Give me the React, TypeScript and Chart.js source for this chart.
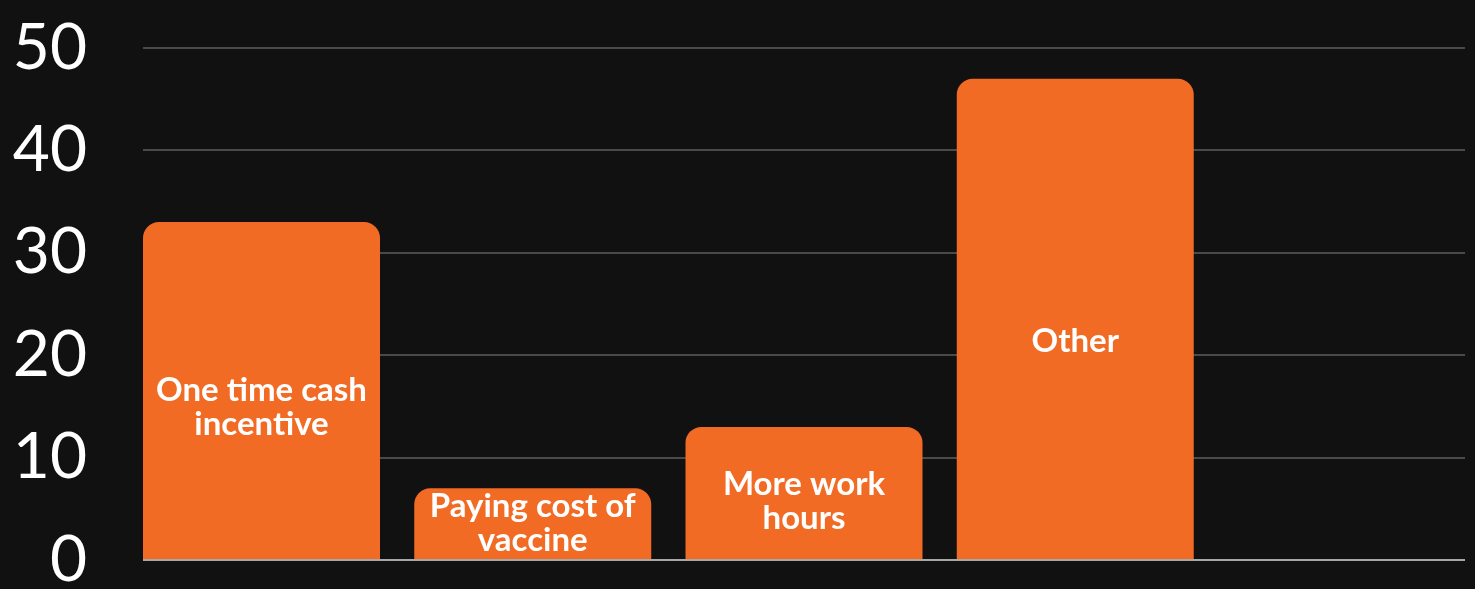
import React, { useEffect, useRef } from "react";
import { Chart, registerables } from "chart.js";

Chart.register(...registerables);

const categories: string[][] = [
  ["One time cash", "incentive"],
  ["Paying cost of", "vaccine"],
  ["More work", "hours"],
  ["Other"],
];
const values: number[] = [33, 7, 13, 47];
const slotCount = 5;
const yTicks: number[] = [0, 10, 20, 30, 40, 50];

const BG = "#111111";
const BAR = "#F26B24";
const FONT = "Lato, 'Open Sans', sans-serif";

const barLabelPlugin = {
  id: "barLabels",
  afterDatasetsDraw(chart: any) {
    const ctx = chart.ctx;
    const meta = chart.getDatasetMeta(0);
    const lineH = 34;
    ctx.save();
    ctx.fillStyle = "#ffffff";
    ctx.font = `bold 33px ${FONT}`;
    ctx.textAlign = "center";
    ctx.textBaseline = "middle";
    meta.data.forEach((el: any, i: number) => {
      const lines = categories[i];
      if (!lines) return;
      const top = el.y;
      const bottom = el.base;
      const h = bottom - top;
      let c = (top + bottom) / 2 + 0.04 * h + 3;
      const half = (lines.length * lineH) / 2;
      c = Math.min(c, bottom - half - 2);
      lines.forEach((t, k) => {
        const y = c + (k - (lines.length - 1) / 2) * lineH;
        ctx.fillText(t, el.x, y);
      });
    });
    ctx.restore();
  },
};

const bgPlugin = {
  id: "bg",
  beforeDraw(chart: any) {
    const ctx = chart.ctx;
    ctx.save();
    ctx.fillStyle = BG;
    ctx.fillRect(0, 0, chart.width, chart.height);
    ctx.restore();
  },
};

export default function App() {
  const ref = useRef<HTMLCanvasElement | null>(null);
  useEffect(() => {
    if (!ref.current) return;
    const barFrac = 237 / 271.26;
    const side = barFrac / 2;
    const chart = new Chart(ref.current, {
      type: "bar",
      data: {
        datasets: [
          {
            data: values.map((v, i) => ({ x: i, y: v })),
            backgroundColor: BAR,
            borderWidth: 0,
            borderRadius: 16,
            borderSkipped: "start",
            categoryPercentage: 1,
            barPercentage: barFrac,
          },
        ],
      },
      options: {
        animation: false,
        responsive: true,
        maintainAspectRatio: false,
        layout: { padding: { top: 48, bottom: 29, right: 10, left: 0 } },
        plugins: { legend: { display: false }, tooltip: { enabled: false } },
        scales: {
          x: {
            type: "linear",
            display: false,
            offset: false,
            min: -side,
            max: slotCount - 1 + side,
            afterBuildTicks(scale: any) {
              scale.ticks = Array.from({ length: slotCount }, (_, i) => ({ value: i }));
            },
          },
          y: {
            min: 0,
            max: 50,
            afterFit(scale: any) {
              scale.width = 143;
              scale.paddingTop = 0;
              scale.paddingBottom = 0;
            },
            afterBuildTicks(scale: any) {
              scale.ticks = yTicks.map((v) => ({ value: v }));
            },
            border: { display: false },
            grid: {
              drawTicks: false,
              lineWidth: 2,
              color: (c: any) => (c.tick && c.tick.value === 0 ? "#a8a8a8" : "#4a4a4a"),
            },
            ticks: {
              color: "#ffffff",
              padding: 56,
              font: { family: FONT, size: 64, lineHeight: 1 },
            },
          },
        },
      },
      plugins: [bgPlugin, barLabelPlugin],
    });
    return () => chart.destroy();
  }, []);
  return (
    <div style={{ position: "fixed", left: 0, top: 0, width: 1475, height: 589, background: BG }}>
      <canvas ref={ref} />
    </div>
  );
}
